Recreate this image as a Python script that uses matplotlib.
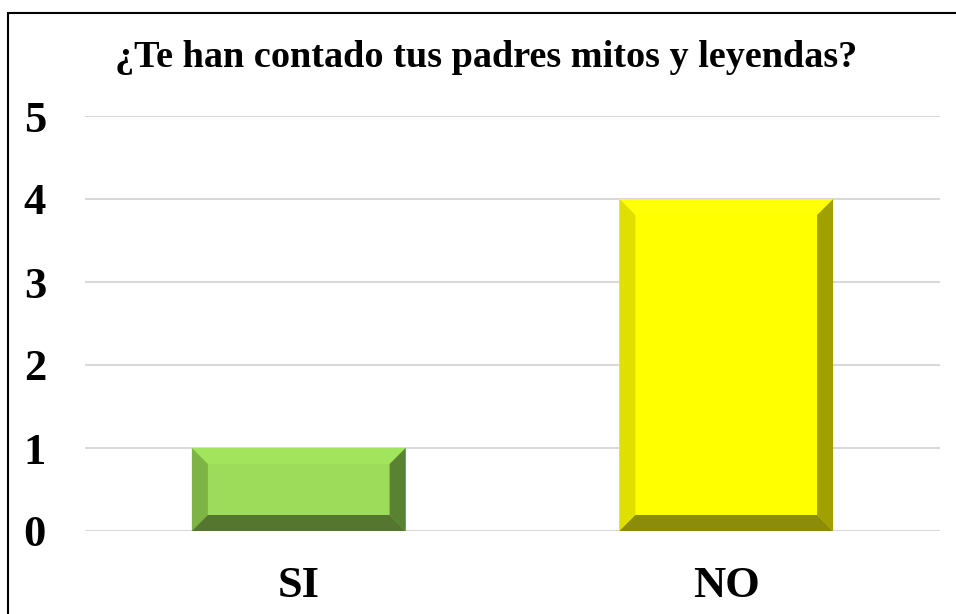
import matplotlib
matplotlib.use("Agg")
import matplotlib.pyplot as plt
from matplotlib.patches import Polygon, Rectangle

categories = ["SI", "NO"]
values = [1, 4]
title = "¿Te han contado tus padres mitos y leyendas?"
yticks = [0, 1, 2, 3, 4, 5]

front = ["#9CDC5A", "#FFFF00"]
top_c = ["#A3E45D", "#FFFF08"]
left_c = ["#7EB446", "#E0E000"]
right_c = ["#5A8233", "#A0A000"]
bottom_c = ["#55762E", "#8C8C0A"]

W, H, DPI = 956, 614, 100
fig = plt.figure(figsize=(W / DPI, H / DPI), dpi=DPI)
fig.patch.set_facecolor("white")

ax = fig.add_axes([85 / W, 1 - 531 / H, (940 - 85) / W, (531 - 116) / H])
ax.set_xlim(-0.5, len(categories) - 0.5)
ax.set_ylim(0, 5)
for s in ax.spines.values():
    s.set_visible(False)
ax.set_yticks(yticks)
ax.yaxis.grid(True, color="#D9D9D9", linewidth=1.5)
ax.set_axisbelow(True)
ax.tick_params(length=0)
ax.tick_params(axis="y", pad=28)
ax.tick_params(axis="x", pad=25)
font = dict(family="Liberation Serif", weight="bold", size=32)
ax.set_yticklabels([str(t) for t in yticks], **font)
ax.set_xticks(range(len(categories)))
ax.set_xticklabels(categories, **font)

bars = ax.bar(range(len(categories)), values, width=0.5, color=front,
              edgecolor="none", zorder=2)

fig.canvas.draw()
bev = 16  # pixels
inv = ax.transData.inverted()
for i, b in enumerate(bars):
    x0, y0 = ax.transData.transform((b.get_x(), b.get_y()))
    x1, y1 = ax.transData.transform((b.get_x() + b.get_width(), b.get_y() + b.get_height()))
    ix0, iy0, ix1, iy1 = x0 + bev, y0 + bev, x1 - bev, y1 - bev
    polys = [
        ([(x0, y1), (x1, y1), (ix1, iy1), (ix0, iy1)], top_c[i]),
        ([(x0, y0), (x0, y1), (ix0, iy1), (ix0, iy0)], left_c[i]),
        ([(x1, y0), (x1, y1), (ix1, iy1), (ix1, iy0)], right_c[i]),
        ([(x0, y0), (x1, y0), (ix1, iy0), (ix0, iy0)], bottom_c[i]),
    ]
    for pts, c in polys:
        dp = inv.transform(pts)
        ax.add_patch(Polygon(dp, closed=True, facecolor=c, edgecolor="none", zorder=3))

fig.text(486.5 / W, 1 - 67 / H, title, ha="center", va="baseline",
         family="Liberation Serif", weight="bold", size=27.5)

fig.add_artist(Rectangle((8 / W, -0.1), 1.2, 1 - 13 / H + 0.1, transform=fig.transFigure,
                         facecolor="none", edgecolor="black", linewidth=1.5))

fig.savefig("out.png", dpi=DPI)
